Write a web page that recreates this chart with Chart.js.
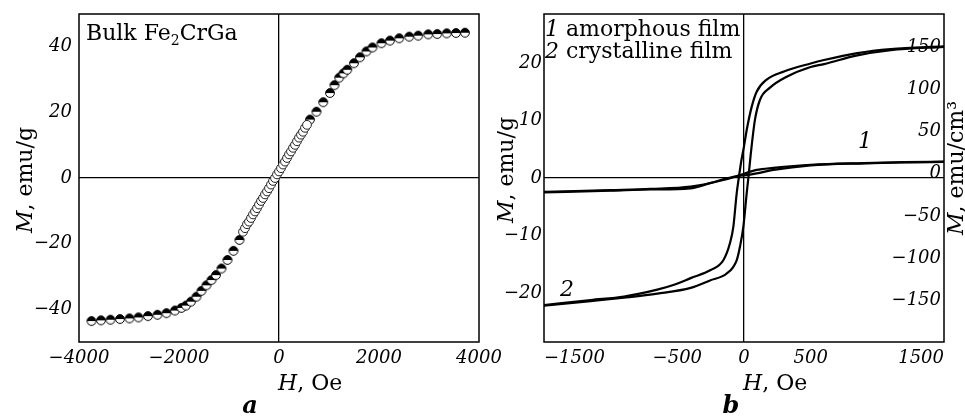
<!DOCTYPE html>
<html>
<head>
<meta charset="utf-8">
<script src="https://cdn.jsdelivr.net/npm/chart.js@4"></script>
<style>
  body { margin: 0; background: #fff; }
  #wrap { position: relative; width: 965px; height: 416px; }
  canvas { position: absolute; top: 0; }
  #bulk { left: 0; }
  #films { left: 490px; }
</style>
</head>
<body>
<div id="wrap">
  <canvas id="bulk" width="515" height="416"></canvas>
  <canvas id="films" width="475" height="416"></canvas>
</div>
<script>
// panel a: bulk Fe2CrGa, M (emu/g) vs H (Oe)
let bulkOuterH = [-3750, -3560, -3370, -3180, -2990, -2810, -2620, -2430, -2250, -2080, -1950, -1860, -1760, -1650, -1550, -1450, -1350, -1260, -1150, -1030, -910, -790,
                  620, 750, 885, 1020, 1110, 1205, 1290, 1365, 1500, 1620, 1750, 1870, 2050, 2220, 2405, 2605, 2785, 2985, 3165, 3355, 3540, 3720];
let bulkOuterM = [-43.6, -43.4, -43.2, -43.0, -42.8, -42.5, -42.1, -41.7, -41.2, -40.4, -39.6, -38.9, -37.7, -36.2, -34.4, -32.7, -31.1, -29.6, -27.6, -25.0, -22.2, -18.9,
                  17.8, 20.2, 23.1, 25.9, 28.3, 30.6, 31.9, 33.0, 35.0, 36.8, 38.6, 39.8, 41.1, 41.9, 42.6, 43.1, 43.4, 43.8, 43.9, 44.1, 44.2, 44.3];
let bulkInnerH = [-720, -680, -640, -600, -560, -520, -480, -440, -400, -360, -320, -280, -240, -200, -160, -120, -80,
                  -40, 0, 40, 80, 120, 160, 200, 240, 280, 320, 360, 400, 440, 480, 520, 560];
let bulkInnerM = [-16.4, -15.3, -14.1, -13.3, -12.2, -11.1, -10.2, -9.2, -8.1, -7.0, -6.1, -5.0, -4.1, -3.1, -2.0, -0.9, 0.0,
                  1.1, 2.0, 3.0, 4.1, 5.0, 6.1, 7.2, 8.1, 9.2, 10.1, 11.2, 12.3, 13.2, 14.1, 15.3, 16.2];
let bulkTicksH = [-4000, -2000, 0, 2000, 4000];
let bulkTicksM = [-40, -20, 0, 20, 40];

// panel b: films, M (emu/g, left) and emu/cm3 (right) vs H (Oe)
let amorDownH = [1500, 1200, 900, 500, 220, 95, -30, -155, -400, -700, -1000, -1500];
let amorDownM = [2.85, 2.75, 2.6, 2.3, 1.75, 1.4, 0.5, -0.35, -1.5, -1.9, -2.1, -2.4];
let amorUpH = [-1500, -1000, -700, -405, -255, -80, 20, 95, 220, 500, 900, 1200, 1500];
let amorUpM = [-2.5, -2.2, -2.0, -1.8, -0.9, 0.2, 0.5, 0.8, 1.4, 2.2, 2.55, 2.7, 2.8];
let crysDownH = [1500, 1100, 850, 600, 500, 300, 170, 95, 58, 20, 0, -20, -38, -55, -80, -105, -155, -250, -400, -530, -650, -900, -1150, -1500];
let crysDownM = [22.9, 22.4, 21.7, 20.5, 19.9, 18.5, 17.1, 15.0, 12.4, 8.3, 5.5, 3.0, 0.2, -2.7, -8.5, -11.3, -14.3, -16.0, -17.4, -18.6, -19.4, -20.6, -21.2, -22.1];
let crysUpH = [-1500, -1150, -900, -650, -400, -255, -130, -55, -30, -5, 20, 35, 50, 82, 120, 195, 320, 500, 600, 850, 1100, 1500];
let crysUpM = [-22.2, -21.4, -20.8, -20.1, -19.1, -17.8, -16.6, -14.3, -11.9, -8.5, -2.7, 0.5, 4.0, 10.1, 13.6, 15.7, 17.6, 19.3, 19.8, 21.3, 22.2, 22.8];
let filmTicksH = [-1500, -500, 0, 500, 1500];
let filmTicksM = [-20, -10, 0, 10, 20];
let filmTicksV = [-150, -100, -50, 0, 50, 100, 150];

let FAMILY = '"DejaVu Serif", serif';
let it = size => 'italic ' + size + 'px ' + FAMILY;
let rm = size => size + 'px ' + FAMILY;
let tickFont = { family: FAMILY, size: 18, style: 'italic' };
let minus = v => String(v).replace('-', '\u2212');

function toXY(h, m) {
    return h.map((v, i) => ({ x: v, y: m[i] }));
}

// marker: top half black, bottom half white
let halfDot = document.createElement('canvas');
halfDot.width = 12;
halfDot.height = 12;
(function () {
    let c = halfDot.getContext('2d');
    c.fillStyle = '#fff';
    c.beginPath(); c.arc(6, 6, 4.4, 0, 2 * Math.PI); c.fill();
    c.fillStyle = '#000';
    c.beginPath(); c.arc(6, 6, 4.4, Math.PI, 2 * Math.PI); c.fill();
    c.strokeStyle = '#000';
    c.lineWidth = 1;
    c.beginPath(); c.arc(6, 6, 4.4, 0, 2 * Math.PI); c.stroke();
})();

function runsWidth(ctx, runs) {
    let w = 0;
    runs.forEach(r => { ctx.font = r[1]; w += ctx.measureText(r[0]).width; });
    return w;
}
function drawRuns(ctx, runs, x, y) {
    let cx = x;
    runs.forEach(r => {
        ctx.font = r[1];
        ctx.fillText(r[0], cx, y + (r[2] || 0));
        cx += ctx.measureText(r[0]).width;
    });
}
function vTitle(ctx, runs, cx, cy) {
    ctx.save();
    ctx.translate(cx, cy);
    ctx.rotate(-Math.PI / 2);
    drawRuns(ctx, runs, -runsWidth(ctx, runs) / 2, 7);
    ctx.restore();
}
function textPlugin(draw) {
    return {
        id: 'texts',
        afterDraw(chart) {
            let ctx = chart.ctx;
            let a = chart.chartArea;
            ctx.save();
            ctx.strokeStyle = '#000';
            ctx.lineWidth = 1.5;
            ctx.strokeRect(a.left, a.top, a.right - a.left, a.bottom - a.top);
            ctx.fillStyle = '#000';
            ctx.textBaseline = 'alphabetic';
            ctx.textAlign = 'left';
            draw(chart, ctx);
            ctx.restore();
        }
    };
}
let zeroGrid = {
    drawTicks: false,
    lineWidth: 1.3,
    color: c => (c.tick && c.tick.value === 0 ? '#000' : 'rgba(0,0,0,0)')
};
// keep the plot frame where the reference has it, no extra room for edge labels
let fitX = s => { s.height = 74; s.paddingLeft = 0; s.paddingRight = 0; };
let fitY = w => s => { s.width = w; s.paddingTop = 0; s.paddingBottom = 0; };

Chart.defaults.color = '#000';

let bulkChart = new Chart(document.getElementById('bulk'), {
    type: 'scatter',
    data: {
        datasets: [
            {
                data: toXY(bulkInnerH, bulkInnerM),
                pointStyle: 'circle',
                pointRadius: 4.4,
                pointBackgroundColor: '#fff',
                pointBorderColor: '#222',
                pointBorderWidth: 1
            },
            {
                data: toXY(bulkOuterH, bulkOuterM),
                pointStyle: halfDot,
                pointRadius: 5
            }
        ]
    },
    options: {
        responsive: false,
        animation: false,
        devicePixelRatio: 1,
        layout: { padding: { left: 0, right: 36, top: 14, bottom: 0 } },
        plugins: { legend: { display: false }, tooltip: { enabled: false } },
        scales: {
            x: {
                type: 'linear', min: -4000, max: 4000,
                afterBuildTicks: s => { s.ticks = bulkTicksH.map(v => ({ value: v })); },
                afterFit: fitX,
                ticks: { font: tickFont, padding: 6, maxRotation: 0, callback: minus },
                grid: zeroGrid,
                border: { display: false }
            },
            y: {
                type: 'linear', min: -50, max: 50,
                afterBuildTicks: s => { s.ticks = bulkTicksM.map(v => ({ value: v })); },
                afterFit: fitY(79),
                ticks: { font: tickFont, padding: 7, callback: minus },
                grid: zeroGrid,
                border: { display: false }
            }
        }
    },
    plugins: [textPlugin((chart, ctx) => {
        let x0 = chart.scales.x.getPixelForValue(0);
        vTitle(ctx, [['M', it(22)], [', emu/g', rm(22)]], 25, 180);
        drawRuns(ctx, [['H', it(22)], [', Oe', rm(22)]], x0 - 1, 390);
        ctx.font = 'italic bold 24px ' + FAMILY;
        ctx.textAlign = 'center';
        ctx.fillText('a', 250, 413);
        ctx.textAlign = 'left';
        drawRuns(ctx, [['Bulk Fe', rm(22)], ['2', rm(14), 5], ['CrGa', rm(22)]], 86, 40);
    })]
});

let lineSet = (h, m) => ({
    data: toXY(h, m),
    showLine: true,
    borderColor: '#000',
    borderWidth: 2.2,
    pointRadius: 0,
    cubicInterpolationMode: 'monotone',
    yAxisID: 'y'
});

let filmChart = new Chart(document.getElementById('films'), {
    type: 'scatter',
    data: {
        datasets: [
            lineSet(amorDownH, amorDownM),
            lineSet(amorUpH, amorUpM),
            lineSet(crysDownH, crysDownM),
            lineSet(crysUpH, crysUpM)
        ]
    },
    options: {
        responsive: false,
        animation: false,
        devicePixelRatio: 1,
        layout: { padding: { left: 0, right: 0, top: 14, bottom: 0 } },
        plugins: { legend: { display: false }, tooltip: { enabled: false } },
        scales: {
            x: {
                type: 'linear', min: -1500, max: 1500,
                afterBuildTicks: s => { s.ticks = filmTicksH.map(v => ({ value: v })); },
                afterFit: fitX,
                ticks: { font: tickFont, padding: 6, maxRotation: 0, align: 'inner', callback: minus },
                grid: zeroGrid,
                border: { display: false }
            },
            y: {
                type: 'linear', position: 'left', min: -28.5, max: 28.5,
                afterBuildTicks: s => { s.ticks = filmTicksM.map(v => ({ value: v })); },
                afterFit: fitY(54),
                ticks: { font: tickFont, padding: 2, callback: minus },
                grid: zeroGrid,
                border: { display: false }
            },
            y2: {
                type: 'linear', position: 'right', min: -200, max: 190,
                afterBuildTicks: s => { s.ticks = filmTicksV.map(v => ({ value: v })); },
                afterFit: fitY(21),
                ticks: { font: tickFont, padding: -3, mirror: true, callback: minus },
                grid: { display: false, drawTicks: false },
                border: { display: false }
            }
        }
    },
    plugins: [textPlugin((chart, ctx) => {
        let sx = chart.scales.x, sy = chart.scales.y;
        vTitle(ctx, [['M', it(22)], [', emu/g', rm(22)]], 16, 170);
        vTitle(ctx, [['M', it(22)], [', emu/cm\u00b3', rm(22)]], 466, 168);
        drawRuns(ctx, [['H', it(22)], [', Oe', rm(22)]], sx.getPixelForValue(0) - 1, 390);
        drawRuns(ctx, [['1', it(22)], [' amorphous film', rm(22)]], 55, 36);
        drawRuns(ctx, [['2', it(22)], [' crystalline film', rm(22)]], 55, 58);
        ctx.font = 'italic bold 24px ' + FAMILY;
        ctx.textAlign = 'center';
        ctx.fillText('b', 241, 413);
        ctx.font = it(22);
        ctx.fillText('1', sx.getPixelForValue(907), sy.getPixelForValue(5.2));
        ctx.fillText('2', sx.getPixelForValue(-1328), sy.getPixelForValue(-20.5));
    })]
});
</script>
</body>
</html>
